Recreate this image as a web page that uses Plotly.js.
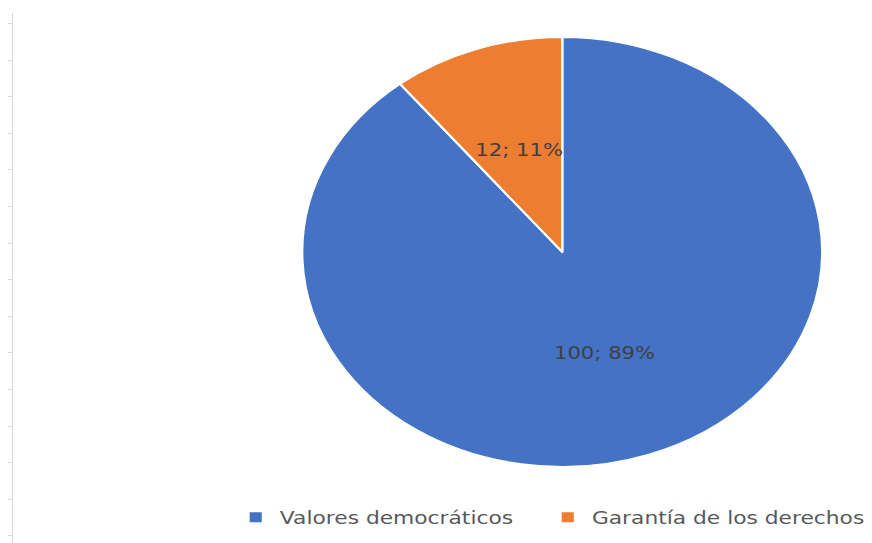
<!DOCTYPE html>
<html>
<head>
<meta charset="utf-8">
<script src="https://cdn.plot.ly/plotly-3.0.1.min.js"></script>
<style>
  html, body { margin: 0; padding: 0; background: #fff; overflow: hidden; }
  #wrap { width: 872px; height: 543px; overflow: hidden; }
  #chart { width: 721px; height: 543px; transform: scaleX(1.2094); transform-origin: 0 0; }
  #chart .legend .scrollbox { clip-path: none !important; }
</style>
</head>
<body>
<div id="wrap"><div id="chart"></div></div>
<script>
const categories = ["Valores democráticos", "Garantía de los derechos"];
const values = [100, 12];
const colors = ["#4472C4", "#ED7D31"];

const W = 721, H = 543;
const pieDomainX = [0.3465, 0.943];
const pieDomainY = [0.14, 0.932];

const pie = {
  type: "pie",
  labels: categories,
  values: values,
  sort: false,
  direction: "clockwise",
  rotation: 0,
  marker: { colors: colors, line: { color: "#ffffff", width: 2 } },
  textinfo: "none",
  hoverinfo: "label+value+percent",
  domain: { x: pieDomainX, y: pieDomainY }
};

// data labels placed Excel-style: mid-angle of each slice, at half the radius
const total = values.reduce((a, b) => a + b, 0);
const cx = (pieDomainX[0] + pieDomainX[1]) / 2;
const cy = (pieDomainY[0] + pieDomainY[1]) / 2;
const rPx = Math.min((pieDomainX[1] - pieDomainX[0]) * W, (pieDomainY[1] - pieDomainY[0]) * H) / 2;
let cum = 0;
const annotations = values.map((v, i) => {
  const mid = (cum + v / 2) / total * 2 * Math.PI;
  cum += v;
  return {
    xref: "paper", yref: "paper",
    x: cx + 0.5 * rPx * Math.sin(mid) / W,
    y: cy + 0.5 * rPx * Math.cos(mid) / H,
    xanchor: "center", yanchor: "middle",
    text: v + "; " + Math.round(v / total * 100) + "%",
    showarrow: false,
    font: { family: "DejaVu Sans, sans-serif", size: 17.5, color: "#404040" }
  };
});

const frame = {
  type: "scatter", x: [], y: [], xaxis: "x", yaxis: "y",
  showlegend: false, hoverinfo: "skip"
};

const layout = {
  width: W, height: H,
  margin: { l: 0, r: 0, t: 0, b: 0 },
  paper_bgcolor: "#ffffff", plot_bgcolor: "rgba(0,0,0,0)",
  font: { family: "DejaVu Sans, sans-serif", color: "#595959" },
  showlegend: true,
  legend: {
    orientation: "h", x: 0.2655, xanchor: "left", y: 0.047, yanchor: "middle",
    font: { size: 18, color: "#595959" }, entrywidth: 213, traceorder: "normal"
  },
  annotations: annotations,
  xaxis: { domain: [0.0149, 0.02], visible: false, range: [0, 1] },
  yaxis: {
    domain: [0, 0.9766], range: [0, 14.49], showline: true, linecolor: "#d9d9d9", linewidth: 1,
    ticks: "outside", ticklen: 3, tickcolor: "#d9d9d9", tick0: 1.194, dtick: 1,
    showticklabels: false, showgrid: false, zeroline: false, fixedrange: true
  }
};

Plotly.newPlot("chart", [frame, pie], layout, { displayModeBar: false, staticPlot: true });
</script>
</body>
</html>
